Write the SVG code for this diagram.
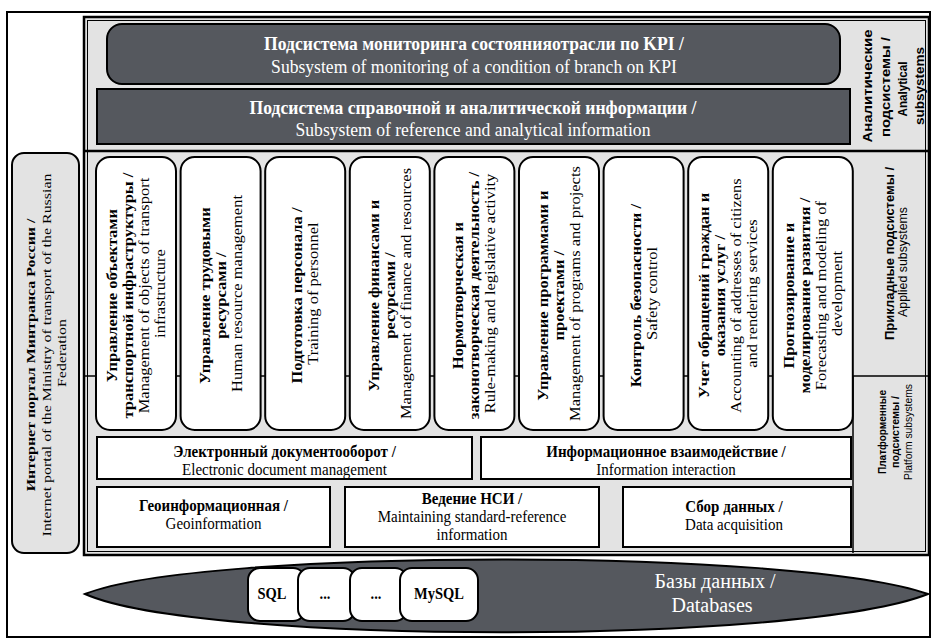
<svg xmlns="http://www.w3.org/2000/svg" width="931" height="638" viewBox="0 0 931 638">
<defs>
<style>
.dark{fill:#55585e;stroke:#000;stroke-width:2}
.col{fill:#fff;stroke:#000;stroke-width:2}
.box{fill:#fff;stroke:#000;stroke-width:2}
.sep{stroke:#000;stroke-width:2.5;fill:none}
.sb{font-family:"Liberation Serif","DejaVu Serif","Times New Roman",serif;font-weight:bold;text-anchor:middle;fill:#000}
.sr{font-family:"Liberation Serif","DejaVu Serif","Times New Roman",serif;font-weight:normal;text-anchor:middle;fill:#000}
.ab{font-family:"Liberation Sans",Arial,sans-serif;font-weight:bold;text-anchor:middle;fill:#000}
.ar{font-family:"Liberation Sans",Arial,sans-serif;font-weight:normal;text-anchor:middle;fill:#000}
.w{fill:#fff}
.c14{font-size:14px}
.c15{font-size:15px}
</style>
</defs>

<!-- outer frame -->
<rect x="7" y="12" width="923" height="625" fill="#fff" stroke="#000" stroke-width="2"/>

<!-- inner main frame -->
<g id="main-frame">
<rect x="84" y="17" width="845" height="538" fill="#e3e3e3" stroke="#000" stroke-width="2.5"/>
<rect x="87.5" y="20.5" width="838" height="531" fill="none" stroke="#000" stroke-width="1"/>
<line class="sep" x1="84" y1="151" x2="929" y2="151"/>
<line x1="84" y1="376" x2="929" y2="376" stroke="#000" stroke-width="1.5"/>
<line x1="853" y1="376" x2="853" y2="553" stroke="#000" stroke-width="1.5"/>
</g>

<!-- analytical subsystems -->
<g id="kpi-monitoring">
<rect class="dark" x="107" y="24" width="733" height="60" rx="15"/>
<text class="sb w" font-size="17.6" transform="translate(474,50) scale(1,1.08)">Подсистема мониторинга состоянияотрасли по KPI /</text>
<text class="sr w" font-size="17.6" transform="translate(474,73) scale(1,1.08)">Subsystem of monitoring of a condition of branch on KPI</text>
</g>
<g id="reference-info">
<rect class="dark" x="97" y="89" width="753" height="55"/>
<text class="sb w" font-size="17.6" transform="translate(473,114) scale(1,1.08)">Подсистема справочной и аналитической информации /</text>
<text class="sr w" font-size="17.6" transform="translate(473,136) scale(1,1.08)">Subsystem of reference and analytical information</text>
</g>
<g id="label-analytical">
<text class="ab" font-size="13" transform="translate(871.5,86) rotate(-90)" textLength="113" lengthAdjust="spacingAndGlyphs">Аналитические</text>
<text class="ab" font-size="13" transform="translate(889.5,87) rotate(-90)" textLength="100" lengthAdjust="spacingAndGlyphs">подсистемы /</text>
<text class="ab" font-size="13" transform="translate(906.5,89) rotate(-90)" textLength="55" lengthAdjust="spacingAndGlyphs">Analytical</text>
<text class="ab" font-size="13" transform="translate(923.5,86) rotate(-90)" textLength="78" lengthAdjust="spacingAndGlyphs">subsystems</text>
</g>

<!-- applied subsystems columns -->
<g id="col-infrastructure">
<rect class="col" x="96" y="157" width="80" height="273" rx="14"/>
<text class="sb c14" transform="translate(136,293.5) scale(1,1.18) rotate(-90)">
<tspan x="0" y="-19">Управление объектами</tspan>
<tspan x="0" y="-3">транспортной инфраструктуры /</tspan>
<tspan class="sr" x="0" y="13">Management of objects of transport</tspan>
<tspan class="sr" x="0" y="29">infrastructure</tspan>
</text>
</g>
<g id="col-hr">
<rect class="col" x="180.6" y="157" width="80" height="273" rx="14"/>
<text class="sb c14" transform="translate(220.6,293.5) scale(1,1.18) rotate(-90)">
<tspan x="0" y="-11">Управление трудовыми</tspan>
<tspan x="0" y="5">ресурсами /</tspan>
<tspan class="sr" x="0" y="21">Human resource management</tspan>
</text>
</g>
<g id="col-training">
<rect class="col" x="265.2" y="157" width="80" height="273" rx="14"/>
<text class="sb c14" transform="translate(305.2,293.5) scale(1,1.18) rotate(-90)">
<tspan x="0" y="-3">Подготовка персонала /</tspan>
<tspan class="sr" x="0" y="13">Training of personnel</tspan>
</text>
</g>
<g id="col-finance">
<rect class="col" x="349.8" y="157" width="80" height="273" rx="14"/>
<text class="sb c14" transform="translate(389.8,293.5) scale(1,1.18) rotate(-90)">
<tspan x="0" y="-11">Управление финансами и</tspan>
<tspan x="0" y="5">ресурсами /</tspan>
<tspan class="sr" x="0" y="21">Management of finance and resources</tspan>
</text>
</g>
<g id="col-rulemaking">
<rect class="col" x="434.4" y="157" width="80" height="273" rx="14"/>
<text class="sb c14" transform="translate(474.4,293.5) scale(1,1.18) rotate(-90)">
<tspan x="0" y="-11">Нормотворческая и</tspan>
<tspan x="0" y="5">законотворческая деятельность /</tspan>
<tspan class="sr" x="0" y="21">Rule-making and legislative activity</tspan>
</text>
</g>
<g id="col-programs">
<rect class="col" x="519" y="157" width="80" height="273" rx="14"/>
<text class="sb c14" transform="translate(559,293.5) scale(1,1.18) rotate(-90)">
<tspan x="0" y="-11">Управление программами и</tspan>
<tspan x="0" y="5">проектами /</tspan>
<tspan class="sr" x="0" y="21">Management of programs and projects</tspan>
</text>
</g>
<g id="col-safety">
<rect class="col" x="603.6" y="157" width="80" height="273" rx="14"/>
<text class="sb c14" transform="translate(643.6,293.5) scale(1,1.18) rotate(-90)">
<tspan x="0" y="-3">Контроль безопасности /</tspan>
<tspan class="sr" x="0" y="13">Safety control</tspan>
</text>
</g>
<g id="col-citizens">
<rect class="col" x="688.2" y="157" width="80" height="273" rx="14"/>
<text class="sb c14" transform="translate(728.2,293.5) scale(1,1.18) rotate(-90)">
<tspan x="0" y="-19">Учет обращений граждан и</tspan>
<tspan x="0" y="-3">оказания услуг /</tspan>
<tspan class="sr" x="0" y="13">Accounting of addresses of citizens</tspan>
<tspan class="sr" x="0" y="29">and rendering services</tspan>
</text>
</g>
<g id="col-forecasting">
<rect class="col" x="772.8" y="157" width="80" height="273" rx="14"/>
<text class="sb c14" transform="translate(812.8,293.5) scale(1,1.18) rotate(-90)">
<tspan x="0" y="-19">Прогнозирование и</tspan>
<tspan x="0" y="-3">моделирование развития /</tspan>
<tspan class="sr" x="0" y="13">Forecasting and modeling of</tspan>
<tspan class="sr" x="0" y="29">development</tspan>
</text>
</g>
<g id="label-applied">
<text class="ab" font-size="12" transform="translate(894,253.5) rotate(-90)" textLength="173" lengthAdjust="spacingAndGlyphs">Прикладные подсистемы /</text>
<text class="ar" font-size="12" transform="translate(907,262) rotate(-90)" textLength="110" lengthAdjust="spacingAndGlyphs">Applied subsystems</text>
</g>

<!-- platform subsystems -->
<g id="edm">
<rect class="box" x="97" y="437" width="375" height="42"/>
<text class="sb c15" transform="translate(284.5,457) scale(1,1.08)">Электронный документооборот /</text>
<text class="sr c15" transform="translate(284.5,475) scale(1,1.08)">Electronic document management</text>
</g>
<g id="info-interaction">
<rect class="box" x="481" y="437" width="370" height="42"/>
<text class="sb c15" transform="translate(666,457) scale(1,1.08)">Информационное взаимодействие /</text>
<text class="sr c15" transform="translate(666,475) scale(1,1.08)">Information interaction</text>
</g>
<g id="geoinfo">
<rect class="box" x="97" y="487" width="233" height="60"/>
<text class="sb c15" transform="translate(213.5,510.5) scale(1,1.08)">Геоинформационная /</text>
<text class="sr c15" transform="translate(213.5,528.5) scale(1,1.08)">Geoinformation</text>
</g>
<g id="nsi">
<rect class="box" x="345" y="487" width="254" height="60"/>
<text class="sb c15" transform="translate(472,504) scale(1,1.08)">Ведение НСИ /</text>
<text class="sr c15" transform="translate(472,522) scale(1,1.08)">Maintaining standard-reference</text>
<text class="sr c15" transform="translate(472,540) scale(1,1.08)">information</text>
</g>
<g id="data-acquisition">
<rect class="box" x="623" y="487" width="228" height="60"/>
<text class="sb c15" transform="translate(734,512) scale(1,1.08)">Сбор данных /</text>
<text class="sr c15" transform="translate(734,530) scale(1,1.08)">Data acquisition</text>
</g>
<g id="label-platform">
<text class="ab" font-size="11.5" transform="translate(886,432) rotate(-90)" textLength="84" lengthAdjust="spacingAndGlyphs">Платформенные</text>
<text class="ab" font-size="11.5" transform="translate(899,432) rotate(-90)" textLength="72" lengthAdjust="spacingAndGlyphs">подсистемы /</text>
<text class="ar" font-size="11.5" transform="translate(912,432) rotate(-90)" textLength="96" lengthAdjust="spacingAndGlyphs">Platform subsystems</text>
</g>

<!-- internet portal -->
<g id="portal">
<rect x="12" y="153" width="67" height="400" rx="12" fill="#e3e3e3" stroke="#000" stroke-width="2"/>
<text class="sb" font-size="13.5" transform="translate(45.5,353) scale(1,1.18) rotate(-90)">
<tspan x="0" y="-11">Интернет портал Минтранса России /</tspan>
<tspan class="sr" x="0" y="5">Internet portal of the Ministry of transport of the Russian</tspan>
<tspan class="sr" x="0" y="21">Federation</tspan>
</text>
</g>

<!-- databases -->
<g id="databases">
<path d="M85,594 C200,548 800,548 928,594 C800,645 200,645 85,594 Z" fill="#55585e" stroke="#000" stroke-width="2"/>
<rect class="box" x="248" y="568" width="57" height="53" rx="12"/>
<rect class="box" x="298" y="568" width="57" height="53" rx="12"/>
<rect class="box" x="350" y="568" width="57" height="53" rx="12"/>
<rect class="box" x="400" y="568" width="78" height="53" rx="12"/>
<text class="sb" font-size="14.5" transform="translate(272,599) scale(1,1.1)">SQL</text>
<text class="sb" font-size="14.5" transform="translate(325,599) scale(1,1.1)">...</text>
<text class="sb" font-size="14.5" transform="translate(376,599) scale(1,1.1)">...</text>
<text class="sb" font-size="14.5" transform="translate(439,599) scale(1,1.1)">MySQL</text>
<text class="sr w" font-size="20" transform="translate(715,588)">Базы данных /</text>
<text class="sr w" font-size="20" transform="translate(712,612)">Databases</text>
</g>
</svg>
